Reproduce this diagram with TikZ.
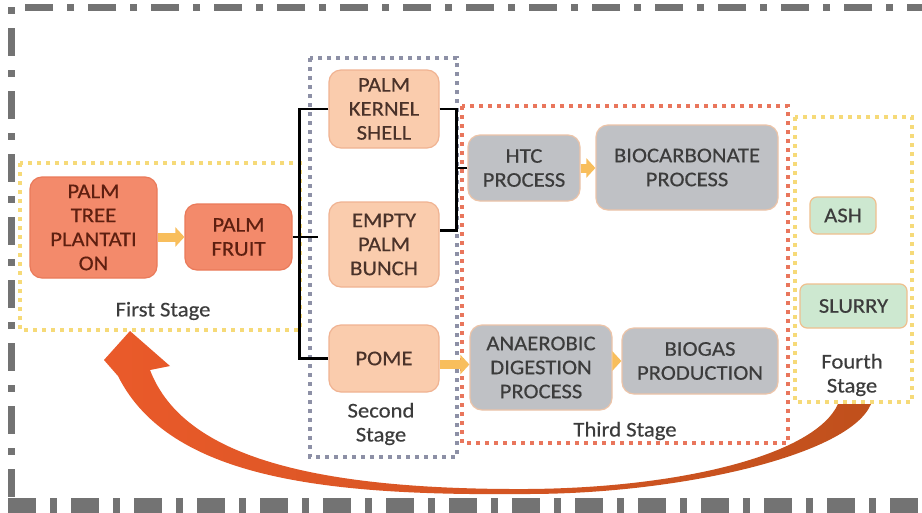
\documentclass[tikz,border=0pt]{standalone}
\usepackage{fontspec}
\setmainfont{Carlito}[FakeStretch=1.08, FakeBold=0.4]
\usetikzlibrary{arrows.meta}

\definecolor{salmon}{HTML}{F38A6B}
\definecolor{salmonline}{HTML}{EA7A5A}
\definecolor{salmontext}{HTML}{5E1F10}
\definecolor{peach}{HTML}{FACCAD}
\definecolor{peachline}{HTML}{F0B392}
\definecolor{peachtext}{HTML}{4A3229}
\definecolor{greybox}{HTML}{BFC1C5}
\definecolor{greyline}{HTML}{EDC4A8}
\definecolor{greenbox}{HTML}{CDE8D0}
\definecolor{greenline}{HTML}{EFC08E}
\definecolor{darktext}{HTML}{3C3C3C}
\definecolor{stageyellow}{HTML}{F6DA78}
\definecolor{stagegrey}{HTML}{8D90A6}
\definecolor{stagered}{HTML}{E9765C}
\definecolor{flowarrow}{HTML}{F8BE5C}
\definecolor{framegrey}{HTML}{737373}
\definecolor{loopleft}{HTML}{EA5A2A}
\definecolor{loopright}{HTML}{C0501C}

\tikzset{
  txt/.style={font=\fontsize{21}{24}\selectfont, align=center, inner sep=0pt},
  box/.style={txt, rounded corners=12pt, line width=1.2pt},
  plantbox/.style={box, fill=salmon, draw=salmonline, text=salmontext},
  residuebox/.style={box, fill=peach, draw=peachline, text=peachtext},
  processbox/.style={box, fill=greybox, draw=greyline, text=darktext},
  productbox/.style={box, fill=greenbox, draw=greenline, text=darktext, rounded corners=7pt},
  stageframe/.style={line width=4pt, dash pattern=on 4pt off 5pt},
  stagelabel/.style={txt, text=darktext},
  link/.style={line width=2.8pt, black},
  flow/.style={line width=9pt, flowarrow, -{Triangle[length=9pt,width=19pt]}},
  outerframe/.style={framegrey, dash pattern=on 28pt off 14pt on 7pt off 14pt},
}

\begin{document}
\begin{tikzpicture}[x=1pt, y=-1pt]
\useasboundingbox (0,0) rectangle (922,512);
\fill[white] (0,0) rectangle (922,512);

% outer dash-dot frame
\draw[outerframe, line width=7pt] (935,7) -- (11,7) -- (11,497);
\draw[outerframe, line width=15pt] (8,505) -- (935,505);

% stage frames
\draw[stageframe, stageyellow] (20,163) rectangle (300,330);
\draw[stageframe, stagegrey] (310,58) rectangle (457,457);
\draw[stageframe, stagered] (462,106) rectangle (788,443);
\draw[stageframe, stageyellow] (795,117) rectangle (912,402);

\node[stagelabel] (l1) at (163,311) {First Stage};
\node[stagelabel] (l2) at (381,424) {Second\\Stage};
\node[stagelabel] (l3) at (625,431) {Third Stage};
\node[stagelabel] (l4) at (852,375) {Fourth\\Stage};

% first stage
\node[plantbox, minimum width=127pt, minimum height=101pt] (ptp) at (93.5,227.5) {PALM\\TREE\\PLANTATI\\ON};
\node[plantbox, minimum width=107pt, minimum height=66pt] (pf) at (238.5,237) {PALM\\FRUIT};

% second stage
\node[residuebox, minimum width=110pt, minimum height=78pt] (pks) at (384,109) {PALM\\KERNEL\\SHELL};
\node[residuebox, minimum width=110pt, minimum height=85pt] (epb) at (384,244.5) {EMPTY\\PALM\\BUNCH};
\node[residuebox, minimum width=110pt, minimum height=67pt] (pome) at (384,358.5) {POME};

% third stage
\node[processbox, minimum width=112pt, minimum height=66pt] (htc) at (524,168) {HTC\\PROCESS};
\node[processbox, minimum width=182pt, minimum height=85pt] (bio) at (687,167.5) {BIOCARBONATE\\PROCESS};
\node[processbox, minimum width=142pt, minimum height=85pt] (ad) at (541,367.5) {ANAEROBIC\\DIGESTION\\PROCESS};
\node[processbox, minimum width=156pt, minimum height=66pt] (bg) at (700,361) {BIOGAS\\PRODUCTION};

% fourth stage
\node[productbox, minimum width=66pt, minimum height=37pt] (ash) at (843,215.5) {ASH};
\node[productbox, minimum width=107pt, minimum height=44pt] (slurry) at (853.5,306) {SLURRY};

% branching connectors
\draw[link] (pf.east) -- (pf.east -| epb.west) [shorten >=10pt];
\draw[link] (pks.west) -- ++(-29,0) |- (pome.west);
\draw[link] (pks.east) -- ++(17,0) |- ([yshift=14pt]epb.east);
\draw[link] (htc.west) -- ++(-12,0);

% flow arrows
\draw[flow] (ptp.east |- pf.west) -- (pf.west);
\draw[flow] (htc.east) -- (htc.east -| bio.west);
\draw[flow] ([yshift=-6pt]pome.east) -- ([yshift=-6pt]pome.east -| ad.west);
\draw[flow] (bg.west -| ad.east) -- (bg.west);

% return loop from the fourth stage back to the plantation
\shade[left color=loopleft, right color=loopright]
  (527,494) .. controls (330,496) and (170,480) .. (118,376)
  -- (104,360) -- (130,331) -- (170,366) -- (150,370)
  .. controls (180,448) and (290,490) .. (527,489)
  .. controls (680,488) and (815,455) .. (838,404)
  -- (871,404)
  .. controls (850,455) and (680,494) .. (527,494) -- cycle;
\end{tikzpicture}
\end{document}
